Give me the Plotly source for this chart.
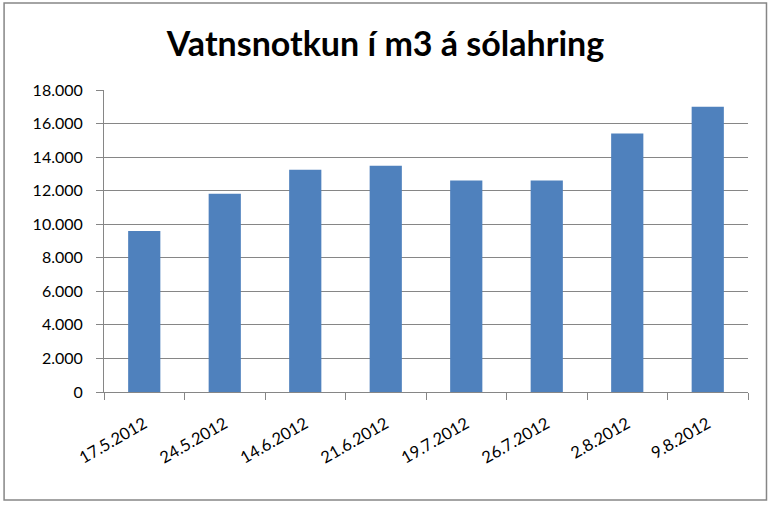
import plotly.graph_objects as go

dates = ["17.5.2012", "24.5.2012", "14.6.2012", "21.6.2012",
         "19.7.2012", "26.7.2012", "2.8.2012", "9.8.2012"]
usage = [9600, 11820, 13240, 13480, 12600, 12600, 15400, 17000]
y_ticks = [0, 2000, 4000, 6000, 8000, 10000, 12000, 14000, 16000, 18000]
title_text = "Vatnsnotkun í m3 á sólahring"

W, H = 771, 505
L, R, T, B = 104, 22.5, 90, 113
pw = W - L - R
ph = H - T - B

def px(x):
    return (x - L) / pw

def py(y):
    return (H - B - y) / ph

fig = go.Figure()
fig.add_trace(go.Bar(x=dates, y=usage, marker=dict(color="#4F81BD", line=dict(width=0))))

fig.update_layout(
    width=W, height=H,
    margin=dict(l=L, r=R, t=T, b=B, autoexpand=False),
    paper_bgcolor="white", plot_bgcolor="white",
    separators=",.",
    bargap=0.6,
    showlegend=False,
    title=dict(text="<b>" + title_text + "</b>", x=0.5, xanchor="center",
               y=1 - 44 / H, yanchor="middle",
               font=dict(family="Lato", size=34, color="black")),
    font=dict(family="Lato", size=16, color="black"),
)
fig.update_xaxes(
    type="category", showline=True, linecolor="#868686", linewidth=1,
    ticks="outside", ticklen=7, tickcolor="#868686", tickson="boundaries",
    tickangle=-30, showgrid=False, tickfont=dict(size=16.5, family="Lato"),
    ticklabelstandoff=15, automargin=False,
)
fig.update_yaxes(
    range=[0, 18000], tickvals=y_ticks, tickformat=",d",
    showline=True, linecolor="#868686", linewidth=1,
    ticks="outside", ticklen=7, tickcolor="#868686",
    showgrid=True, gridcolor="#868686", gridwidth=1,
    zeroline=False, tickfont=dict(size=16, family="Lato"),
    ticklabelstandoff=10, automargin=False,
)
fig.add_shape(type="rect", xref="paper", yref="paper",
              x0=px(4), x1=px(767), y0=py(500), y1=py(3),
              line=dict(color="#868686", width=1.5), fillcolor="rgba(0,0,0,0)")

fig.write_html("out.html", config={"displayModeBar": False},
               post_script="document.body.style.margin='0';")
